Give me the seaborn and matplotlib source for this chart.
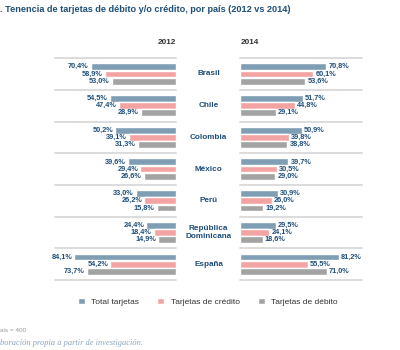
import numpy as np
import pandas as pd
import matplotlib
matplotlib.use("Agg")
import matplotlib.pyplot as plt
import seaborn as sns

# datos
paises = ['Brasil', 'Chile', 'Colombia', 'México', 'Perú', 'República\nDominicana', 'España']
tipos = ['Total tarjetas', 'Tarjetas de crédito', 'Tarjetas de débito']

total_2012 = [70.4, 54.5, 50.2, 39.6, 33.0, 24.4, 84.1]
credito_2012 = [58.9, 47.4, 39.1, 29.4, 26.2, 18.4, 54.2]
debito_2012 = [53.0, 28.9, 31.3, 26.6, 15.8, 14.9, 73.7]

total_2014 = [70.8, 51.7, 50.9, 39.7, 30.9, 29.5, 81.2]
credito_2014 = [60.1, 44.8, 39.8, 30.5, 26.0, 24.1, 55.5]
debito_2014 = [53.6, 29.1, 38.8, 29.0, 19.2, 18.6, 71.0]

colores = ['#7f9db3', '#f3a4a2', '#a3a3a3']
azul = '#1f4e79'


def armar_df(total, credito, debito):
    filas = []
    for serie, tipo in zip([total, credito, debito], tipos):
        for p, v in zip(paises, serie):
            filas.append({'pais': p, 'tipo': tipo, 'valor': v})
    return pd.DataFrame(filas)


df12 = armar_df(total_2012, credito_2012, debito_2012)
df14 = armar_df(total_2014, credito_2014, debito_2014)

sns.set_style('white')
plt.rcParams['font.family'] = ['Liberation Sans', 'DejaVu Sans']

fig = plt.figure(figsize=(4, 3.5), dpi=100)
ax1 = fig.add_axes([0.1375, 0.2, 0.3025, 0.634])
ax2 = fig.add_axes([0.6, 0.2, 0.305, 0.634])

for ax, d, lims in [(ax1, df12, (100, 0)), (ax2, df14, (0, 100))]:
    sns.barplot(data=d, y='pais', x='valor', hue='tipo', hue_order=tipos,
                palette=colores, orient='h', width=0.68, gap=0.06,
                saturation=1, ax=ax)
    # 2012 va espejado (barras hacia la izquierda)
    ax.set_xlim(*lims)
    ax.set_ylim(6.5, -0.5)
    for y in np.arange(-0.5, 7, 1):
        ax.axhline(y, color='#d9d9d9', lw=1.3, clip_on=False, zorder=0)
    for cont in ax.containers:
        etiquetas = [f"{b.get_width():.1f}%".replace('.', ',') for b in cont]
        ax.bar_label(cont, labels=etiquetas, padding=1.5, fontsize=5.3,
                     fontweight='bold', color=azul)
    ax.set_xlabel('')
    ax.set_ylabel('')
    ax.set_xticks([])
    ax.set_yticks([])
    sns.despine(ax=ax, left=True, bottom=True)

handles, labels = ax1.get_legend_handles_labels()
ax1.get_legend().remove()
ax2.get_legend().remove()

# nombres de países al centro
for i, p in enumerate(paises):
    ax1.annotate(p, xy=(1, i), xycoords=('axes fraction', 'data'),
                 xytext=(32.5, 0), textcoords='offset pixels',
                 ha='center', va='center', fontsize=5.9, fontweight='bold',
                 color=azul, linespacing=1.1)

fig.text(176 / 400, 1 - 42 / 350, '2012', ha='right', va='center',
         fontsize=5.9, fontweight='bold', color='#333333')
fig.text(241 / 400, 1 - 42 / 350, '2014', ha='left', va='center',
         fontsize=5.9, fontweight='bold', color='#333333')

fig.text(0.0, 1 - 10 / 350,
         '. Tenencia de tarjetas de débito y/o crédito, por país (2012 vs 2014)',
         ha='left', va='center', fontsize=6.6, fontweight='bold', color=azul)

fig.legend(handles, labels, loc='center', bbox_to_anchor=(0.52, 1 - 302 / 350),
           ncol=3, frameon=False, fontsize=6, handlelength=0.8,
           handleheight=0.8, handletextpad=0.8, columnspacing=2.2,
           labelcolor='#333333')

fig.text(0.0, 1 - 330 / 350, 'ais = 400', ha='left', va='center',
         fontsize=4.6, color='#9a9a9a')
fig.text(0.0, 1 - 343 / 350, 'boración propia a partir de investigación.',
         ha='left', va='center', fontsize=6, style='italic',
         color='#8aa3bf', family=['Liberation Serif', 'DejaVu Serif'])

fig.savefig('out.png', dpi=100)
